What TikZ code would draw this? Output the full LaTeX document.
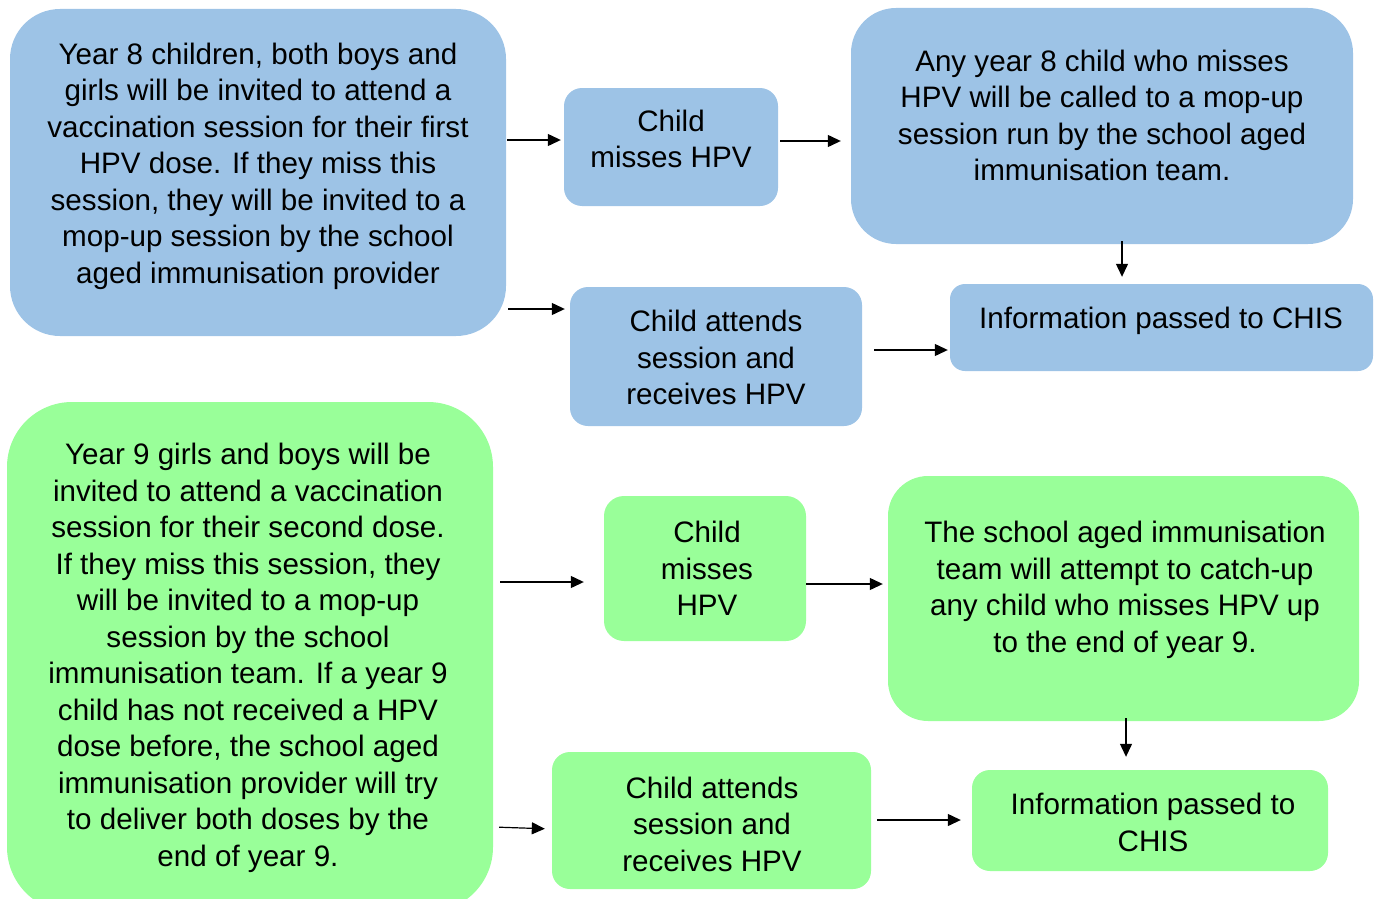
\documentclass[tikz,border=0pt]{standalone}
\usepackage{fontspec}
\setmainfont{Liberation Sans}
\usetikzlibrary{arrows.meta}
\definecolor{boxblue}{HTML}{9DC3E6}
\definecolor{boxgreen}{HTML}{99FF99}
\begin{document}
\begin{tikzpicture}[x=1pt,y=-1pt,
  bbox/.style={rectangle,fill=boxblue,draw=none,inner sep=0pt},
  gbox/.style={rectangle,fill=boxgreen,draw=none,inner sep=0pt},
  txt/.style={align=center,inner sep=0pt,font=\fontsize{29.6}{36.5}\selectfont},
  arr/.style={line width=1.2pt,-{Triangle[length=13pt,width=12pt]}}]
\useasboundingbox (0,0) rectangle (1378,899);
% blue boxes
\node[bbox,rounded corners=50pt,minimum width=496pt,minimum height=327pt] (b1) at (258,172.5) {};
\node[bbox,rounded corners=18pt,minimum width=214pt,minimum height=118pt] (b2) at (671,147) {};
\node[bbox,rounded corners=45pt,minimum width=502pt,minimum height=236pt] (b3) at (1102,126) {};
\node[bbox,rounded corners=15pt,minimum width=423pt,minimum height=87pt] (b4) at (1161.5,327.5) {};
\node[bbox,rounded corners=18pt,minimum width=292pt,minimum height=139pt] (b5) at (716,356.5) {};
% green boxes
\begin{scope}
\clip (0,0) rectangle (1378,899);
\node[gbox,rounded corners=65pt,minimum width=486pt,minimum height=510pt] (g1) at (250,657) {};
\end{scope}
\node[gbox,rounded corners=20pt,minimum width=202pt,minimum height=145pt] (g2) at (705,568.5) {};
\node[gbox,rounded corners=40pt,minimum width=471pt,minimum height=245pt] (g3) at (1123.5,598.5) {};
\node[gbox,rounded corners=18pt,minimum width=356pt,minimum height=101pt] (g4) at (1150,820.5) {};
\node[gbox,rounded corners=18pt,minimum width=319pt,minimum height=137pt] (g5) at (711.5,820.5) {};
% texts
\node[txt] (t1) at (258,166) {Year 8 children, both boys and\\girls will be invited to attend a\\vaccination session for their first\\HPV dose. If they miss this\\session, they will be invited to a\\mop-up session by the school\\aged immunisation provider};
\node[txt] (t2) at (671,139) {Child\\misses HPV};
\node[txt] (t3) at (1102,115.5) {Any year 8 child who misses\\HPV will be called to a mop-up\\session run by the school aged\\immunisation team.};
\node[txt] (t4) at (1161,321) {Information passed to CHIS};
\node[txt] (t5) at (716,357.5) {Child attends\\session and\\receives HPV};
\node[txt] (t6) at (248,658) {Year 9 girls and boys will be\\invited to attend a vaccination\\session for their second dose.\\If they miss this session, they\\will be invited to a mop-up\\session by the school\\immunisation team. If a year 9\\child has not received a HPV\\dose before, the school aged\\immunisation provider will try\\to deliver both doses by the\\end of year 9.};
\node[txt] (t7) at (707,568.5) {Child\\misses\\HPV};
\node[txt] (t8) at (1125,590) {The school aged immunisation\\team will attempt to catch-up\\any child who misses HPV up\\to the end of year 9.};
\node[txt] (t9) at (1153,822.5) {Information passed to\\CHIS};
\node[txt] (t10) at (712,824) {Child attends\\session and\\receives HPV};
% arrows
\draw[arr,shorten <=1pt,shorten >=3pt] (b1.east|-0,140) -- (b2.west|-0,140);
\draw[arr,shorten <=2pt,shorten >=10pt] (b2.east|-0,141) -- (b3.west|-0,141);
\draw[arr,shorten <=-3pt,shorten >=7pt] (b3.south-|1122,0) -- (b4.north-|1122,0);
\draw[arr,shorten <=2pt,shorten >=5pt] (b1.east|-0,309) -- (b5.west|-0,309);
\draw[arr,shorten <=12pt,shorten >=2pt] (b5.east|-0,350) -- (b4.west|-0,350);
\draw[arr,shorten <=7pt,shorten >=20pt] (g1.east|-0,582) -- (g2.west|-0,582);
\draw[arr,shorten <=0pt,shorten >=5pt] (g2.east|-0,584) -- (g3.west|-0,584);
\draw[arr,shorten <=-3pt,shorten >=13pt] (g3.south-|1126,0) -- (g4.north-|1126,0);
\draw[arr,shorten <=6pt,shorten >=7pt] (g1.east|-0,827) -- (g5.west|-0,829);
\draw[arr,shorten <=6pt,shorten >=11pt] (g5.east|-0,820) -- (g4.west|-0,820);
\end{tikzpicture}
\end{document}
